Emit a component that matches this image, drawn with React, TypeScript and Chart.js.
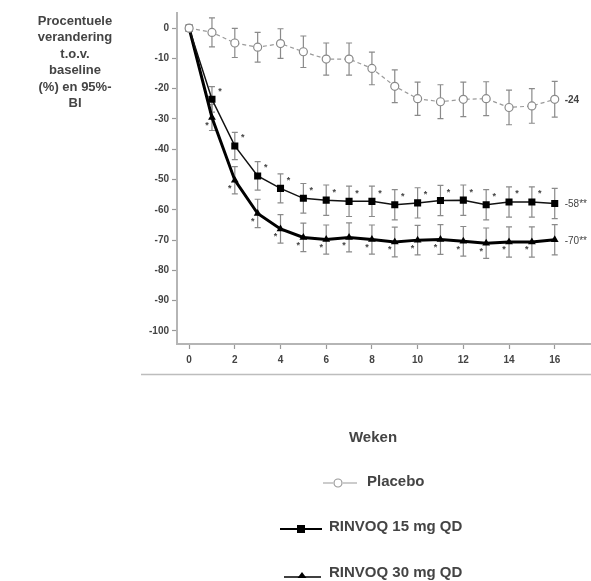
import React, { useEffect, useRef } from "react";
import { Chart, registerables } from "chart.js";

Chart.register(...registerables);

const weeks = [0, 1, 2, 3, 4, 5, 6, 7, 8, 9, 10, 11, 12, 13, 14, 15, 16];
const placebo = [0, -1.4, -4.9, -6.3, -5.1, -7.8, -10.2, -10.2, -13.3, -19.2, -23.3, -24.3, -23.5, -23.3, -26.2, -25.7, -23.5];
const rinvoq15 = [0, -23.5, -38.9, -48.8, -52.9, -56.2, -56.8, -57.2, -57.2, -58.3, -57.7, -56.9, -56.8, -58.3, -57.4, -57.4, -57.9];
const rinvoq30 = [0, -29.5, -50.2, -61.2, -66.3, -69.1, -69.8, -69.1, -69.8, -70.6, -70.0, -69.8, -70.4, -71.0, -70.6, -70.6, -69.9];
const placeboErr = [0, 4.8, 4.8, 4.9, 4.9, 5.2, 5.3, 5.3, 5.4, 5.4, 5.5, 5.6, 5.7, 5.6, 5.7, 5.7, 5.9];
const rinvoq15Err = [0, 4.2, 4.5, 4.7, 4.8, 4.9, 5, 5, 5, 5, 5, 5, 5, 5, 5, 5, 5];
const rinvoq30Err = [0, 4.3, 4.5, 4.7, 4.7, 4.7, 4.8, 4.8, 4.8, 4.9, 4.9, 4.9, 4.9, 5, 5, 5, 5];
const rinvoq15Stars = [false, true, true, true, true, true, true, true, true, true, true, true, true, true, true, true, false];
const rinvoq30Stars = [false, true, true, true, true, true, true, true, true, true, true, true, true, true, true, true, false];
const endLabels = ["-24", "-58**", "-70**"];
const seriesNames = ["Placebo", "RINVOQ 15 mg QD", "RINVOQ 30 mg QD"];
const xTicks = [0, 2, 4, 6, 8, 10, 12, 14, 16];
const yTicks = [0, -10, -20, -30, -40, -50, -60, -70, -80, -90, -100];
const yTitleLines = ["Procentuele", "verandering", "t.o.v.", "baseline", "(%) en 95%-", "BI"];
const xTitle = "Weken";

const FONT = "'Liberation Sans', Arial, Helvetica, sans-serif";
const TEXT = "#444";
const AXIS = "#b5b5b5";

const errors = [placeboErr, rinvoq15Err, rinvoq30Err];
const stars = [null, rinvoq15Stars, rinvoq30Stars];

const customPlugin = {
  id: "custom",
  beforeDatasetsDraw(chart: any) {
    const ctx = chart.ctx;
    const xs = chart.scales.x;
    const ys = chart.scales.y;
    ctx.save();
    // extend x axis line to the right edge
    ctx.strokeStyle = AXIS;
    ctx.lineWidth = 2;
    ctx.beginPath();
    const by = Math.round(chart.chartArea.bottom);
    ctx.moveTo(chart.chartArea.right - 2, by);
    ctx.lineTo(chart.width, by);
    ctx.stroke();
    ctx.strokeStyle = "#8a8a8a";
    ctx.lineWidth = 1.2;
    chart.data.datasets.forEach((ds: any, di: number) => {
      ds.data.forEach((p: any, i: number) => {
        const e = errors[di][i];
        if (!e) return;
        const x = xs.getPixelForValue(p.x);
        const t = ys.getPixelForValue(p.y + e);
        const b = ys.getPixelForValue(p.y - e);
        ctx.beginPath();
        ctx.moveTo(x, t);
        ctx.lineTo(x, b);
        ctx.moveTo(x - 3, t);
        ctx.lineTo(x + 3, t);
        ctx.moveTo(x - 3, b);
        ctx.lineTo(x + 3, b);
        ctx.stroke();
      });
    });
    ctx.restore();
  },
  afterDatasetsDraw(chart: any) {
    const ctx = chart.ctx;
    const xs = chart.scales.x;
    const ys = chart.scales.y;
    ctx.save();
    ctx.fillStyle = "#444";
    ctx.font = `bold 9px ${FONT}`;
    ctx.textAlign = "center";
    ctx.textBaseline = "middle";
    chart.data.datasets.forEach((ds: any, di: number) => {
      const st = stars[di];
      if (!st) return;
      ds.data.forEach((p: any, i: number) => {
        if (!st[i]) return;
        const x = xs.getPixelForValue(p.x);
        const y = ys.getPixelForValue(p.y);
        if (di === 1) ctx.fillText("*", x + 8, y - 8);
        else ctx.fillText("*", x - 5, y + 8);
      });
    });
    ctx.textAlign = "left";
    chart.data.datasets.forEach((ds: any, di: number) => {
      const last = ds.data[ds.data.length - 1];
      const x = xs.getPixelForValue(last.x) + 10;
      const y = ys.getPixelForValue(last.y);
      ctx.font = di === 0 ? `bold 10px ${FONT}` : `10px ${FONT}`;
      ctx.fillText(endLabels[di], x, y + 1);
    });
    ctx.restore();
  },
  afterDraw(chart: any) {
    const ctx = chart.ctx;
    ctx.save();
    // y title
    ctx.fillStyle = TEXT;
    ctx.font = `bold 13px ${FONT}`;
    ctx.textAlign = "center";
    ctx.textBaseline = "middle";
    yTitleLines.forEach((l, i) => ctx.fillText(l, 75, 21 + i * 16.5));
    // separator
    ctx.strokeStyle = "#bdbdbd";
    ctx.lineWidth = 1.5;
    ctx.beginPath();
    ctx.moveTo(141, 374.5);
    ctx.lineTo(591, 374.5);
    ctx.stroke();
    // x title
    ctx.font = `bold 15px ${FONT}`;
    ctx.fillText(xTitle, 373, 438);
    // legend
    ctx.textAlign = "left";
    // placebo
    ctx.strokeStyle = "#999";
    ctx.lineWidth = 1.2;
    ctx.beginPath();
    ctx.moveTo(323, 483);
    ctx.lineTo(333, 483);
    ctx.moveTo(343, 483);
    ctx.lineTo(357, 483);
    ctx.stroke();
    ctx.beginPath();
    ctx.arc(338, 483, 4, 0, Math.PI * 2);
    ctx.fillStyle = "#fff";
    ctx.fill();
    ctx.stroke();
    ctx.fillStyle = TEXT;
    ctx.fillText(seriesNames[0], 367, 482);
    // 15 mg
    ctx.strokeStyle = "#000";
    ctx.lineWidth = 2;
    ctx.beginPath();
    ctx.moveTo(280, 529);
    ctx.lineTo(322, 529);
    ctx.stroke();
    ctx.fillStyle = "#000";
    ctx.fillRect(297, 525, 8, 8);
    ctx.fillStyle = TEXT;
    ctx.fillText(seriesNames[1], 329, 527);
    // 30 mg
    ctx.strokeStyle = "#000";
    ctx.lineWidth = 1.5;
    ctx.beginPath();
    ctx.moveTo(284, 577);
    ctx.lineTo(321, 577);
    ctx.stroke();
    ctx.fillStyle = "#000";
    ctx.beginPath();
    ctx.moveTo(302, 572);
    ctx.lineTo(306.5, 578);
    ctx.lineTo(297.5, 578);
    ctx.closePath();
    ctx.fill();
    ctx.fillStyle = TEXT;
    ctx.fillText(seriesNames[2], 329, 573);
    ctx.restore();
  },
};

export default function App() {
  const ref = useRef<HTMLCanvasElement>(null);
  useEffect(() => {
    const toPts = (arr: number[]) => arr.map((v, i) => ({ x: weeks[i], y: v }));
    const chart = new Chart(ref.current as HTMLCanvasElement, {
      type: "line",
      data: {
        datasets: [
          {
            label: seriesNames[0],
            data: toPts(placebo),
            borderColor: "#9a9a9a",
            borderWidth: 1.2,
            borderDash: [4, 3],
            pointStyle: "circle",
            pointRadius: 4,
            pointBackgroundColor: "#fff",
            pointBorderColor: "#8a8a8a",
            pointBorderWidth: 1.2,
            tension: 0,
          },
          {
            label: seriesNames[1],
            data: toPts(rinvoq15),
            borderColor: "#111",
            borderWidth: 1.5,
            pointStyle: "rect",
            pointRadius: 5,
            pointBackgroundColor: "#000",
            pointBorderColor: "#000",
            pointBorderWidth: 0,
            tension: 0,
          },
          {
            label: seriesNames[2],
            data: toPts(rinvoq30),
            borderColor: "#000",
            borderWidth: 3,
            pointStyle: "triangle",
            pointRadius: 4.5,
            pointBackgroundColor: "#000",
            pointBorderColor: "#000",
            pointBorderWidth: 0,
            tension: 0,
          },
        ],
      },
      options: {
        responsive: false,
        animation: false,
        devicePixelRatio: 1,
        layout: { padding: { top: 13, right: 0, left: 0, bottom: 0 } },
        plugins: { legend: { display: false }, tooltip: { enabled: false }, title: { display: false } },
        scales: {
          x: {
            type: "linear",
            min: -0.53,
            max: 17.36,
            afterBuildTicks: (s: any) => {
              s.ticks = xTicks.map((v) => ({ value: v }));
            },
            afterFit: (s: any) => {
              s.height = 237;
              s.paddingLeft = 0;
              s.paddingRight = 0;
            },
            grid: { drawOnChartArea: false, drawTicks: true, tickLength: 5, tickColor: "#999", tickWidth: 1.2 },
            border: { color: AXIS, width: 2 },
            ticks: { color: TEXT, font: { family: FONT, size: 10, weight: "bold" }, padding: 5, maxRotation: 0, autoSkip: false },
          },
          y: {
            type: "linear",
            min: -104.3,
            max: 5,
            afterBuildTicks: (s: any) => {
              s.ticks = yTicks.map((v) => ({ value: v }));
            },
            afterFit: (s: any) => {
              s.width = 177;
              s.paddingTop = 0;
              s.paddingBottom = 0;
            },
            grid: { drawOnChartArea: false, drawTicks: true, tickLength: 5, tickColor: "#999", tickWidth: 1.2 },
            border: { color: AXIS, width: 2 },
            ticks: { color: TEXT, font: { family: FONT, size: 10, weight: "bold" }, padding: 3, autoSkip: false },
          },
        },
      },
      plugins: [customPlugin],
    } as any);
    return () => chart.destroy();
  }, []);
  return (
    <div style={{ position: "absolute", left: 0, top: 0, width: 591, height: 581, background: "#fff" }}>
      <canvas ref={ref} width={591} height={581} style={{ width: 591, height: 581, display: "block" }} />
    </div>
  );
}
